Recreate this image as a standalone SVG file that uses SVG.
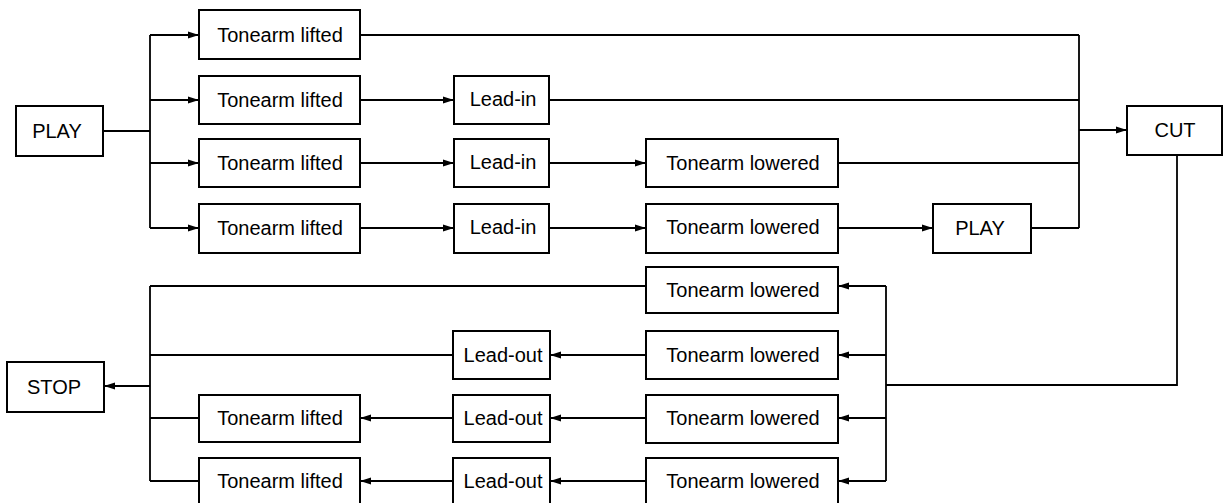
<svg xmlns="http://www.w3.org/2000/svg" width="1224" height="503" viewBox="0 0 1224 503">
<style>
.box{fill:#fff;stroke:#000;stroke-width:2}
.lbl{font-family:"Liberation Sans",Arial,sans-serif;font-size:20px;fill:#000;text-anchor:middle}
.ln{fill:none;stroke:#000;stroke-width:1.8}
.ar{fill:none;stroke:#000;stroke-width:1.8;marker-end:url(#ah)}
</style>
<defs>
<marker id="ah" markerUnits="userSpaceOnUse" markerWidth="12" markerHeight="8" refX="11" refY="4" orient="auto">
<path d="M0,0.5 L11,4 L0,7.5 Z" fill="#000"/>
</marker>
</defs>
<rect width="1224" height="503" fill="#fff"/>
<g id="connectors">
<path class="ln" d="M103,131 H150 M150,35 V228"/>
<path class="ar" d="M150,35 H199"/>
<path class="ar" d="M150,100 H199"/>
<path class="ar" d="M150,163 H199"/>
<path class="ar" d="M150,228 H199"/>
<path class="ln" d="M360,35 H1079"/>
<path class="ar" d="M360,100 H454"/>
<path class="ln" d="M549,100 H1079"/>
<path class="ar" d="M360,163 H454"/>
<path class="ar" d="M549,163 H646"/>
<path class="ln" d="M838,163 H1079"/>
<path class="ar" d="M360,228 H454"/>
<path class="ar" d="M549,228 H646"/>
<path class="ar" d="M838,228 H933"/>
<path class="ln" d="M1031,228 H1079 M1079,35 V228"/>
<path class="ar" d="M1079,130 H1127"/>
<path class="ln" d="M1177,155 V385 H886 M886,286 V481"/>
<path class="ar" d="M886,286 H838"/>
<path class="ar" d="M886,355 H838"/>
<path class="ar" d="M886,418 H838"/>
<path class="ar" d="M886,481 H838"/>
<path class="ln" d="M646,286 H150"/>
<path class="ar" d="M646,355 H550"/>
<path class="ln" d="M453,355 H150"/>
<path class="ar" d="M646,418 H550"/>
<path class="ar" d="M453,418 H360"/>
<path class="ln" d="M199,418 H150"/>
<path class="ar" d="M646,481 H550"/>
<path class="ar" d="M453,481 H360"/>
<path class="ln" d="M199,481 H150 M150,286 V481"/>
<path class="ar" d="M150,386 H104"/>
</g>
<g id="play1"><rect class="box" x="16" y="106" width="87" height="50"/><text class="lbl" x="57" y="138">PLAY</text></g>
<g id="lift1"><rect class="box" x="199" y="10" width="161" height="49"/><text class="lbl" x="280" y="42">Tonearm lifted</text></g>
<g id="lift2"><rect class="box" x="199" y="76" width="161" height="48"/><text class="lbl" x="280" y="107">Tonearm lifted</text></g>
<g id="lift3"><rect class="box" x="199" y="139" width="161" height="48"/><text class="lbl" x="280" y="170">Tonearm lifted</text></g>
<g id="lift4"><rect class="box" x="199" y="204" width="161" height="49"/><text class="lbl" x="280" y="235">Tonearm lifted</text></g>
<g id="leadin2"><rect class="box" x="454" y="76" width="95" height="48"/><text class="lbl" x="503" y="106">Lead-in</text></g>
<g id="leadin3"><rect class="box" x="454" y="139" width="95" height="48"/><text class="lbl" x="503" y="169">Lead-in</text></g>
<g id="leadin4"><rect class="box" x="454" y="204" width="95" height="49"/><text class="lbl" x="503" y="234">Lead-in</text></g>
<g id="lower3"><rect class="box" x="646" y="139" width="192" height="48"/><text class="lbl" x="743" y="170">Tonearm lowered</text></g>
<g id="lower4"><rect class="box" x="646" y="204" width="192" height="49"/><text class="lbl" x="743" y="234">Tonearm lowered</text></g>
<g id="play2"><rect class="box" x="933" y="204" width="98" height="49"/><text class="lbl" x="980" y="235">PLAY</text></g>
<g id="cut"><rect class="box" x="1127" y="106" width="95" height="49"/><text class="lbl" x="1175" y="137">CUT</text></g>
<g id="blower1"><rect class="box" x="646" y="267" width="192" height="46"/><text class="lbl" x="743" y="297">Tonearm lowered</text></g>
<g id="blower2"><rect class="box" x="646" y="331" width="192" height="48"/><text class="lbl" x="743" y="362">Tonearm lowered</text></g>
<g id="blower3"><rect class="box" x="646" y="395" width="192" height="48"/><text class="lbl" x="743" y="425">Tonearm lowered</text></g>
<g id="blower4"><rect class="box" x="646" y="458" width="192" height="50"/><text class="lbl" x="743" y="488">Tonearm lowered</text></g>
<g id="leadout2"><rect class="box" x="453" y="331" width="97" height="48"/><text class="lbl" x="503" y="362">Lead-out</text></g>
<g id="leadout3"><rect class="box" x="453" y="395" width="97" height="47"/><text class="lbl" x="503" y="425">Lead-out</text></g>
<g id="leadout4"><rect class="box" x="453" y="458" width="97" height="50"/><text class="lbl" x="503" y="488">Lead-out</text></g>
<g id="blift3"><rect class="box" x="199" y="395" width="161" height="47"/><text class="lbl" x="280" y="425">Tonearm lifted</text></g>
<g id="blift4"><rect class="box" x="199" y="458" width="161" height="50"/><text class="lbl" x="280" y="488">Tonearm lifted</text></g>
<g id="stop"><rect class="box" x="7" y="362" width="97" height="50"/><text class="lbl" x="54" y="394">STOP</text></g>
</svg>
